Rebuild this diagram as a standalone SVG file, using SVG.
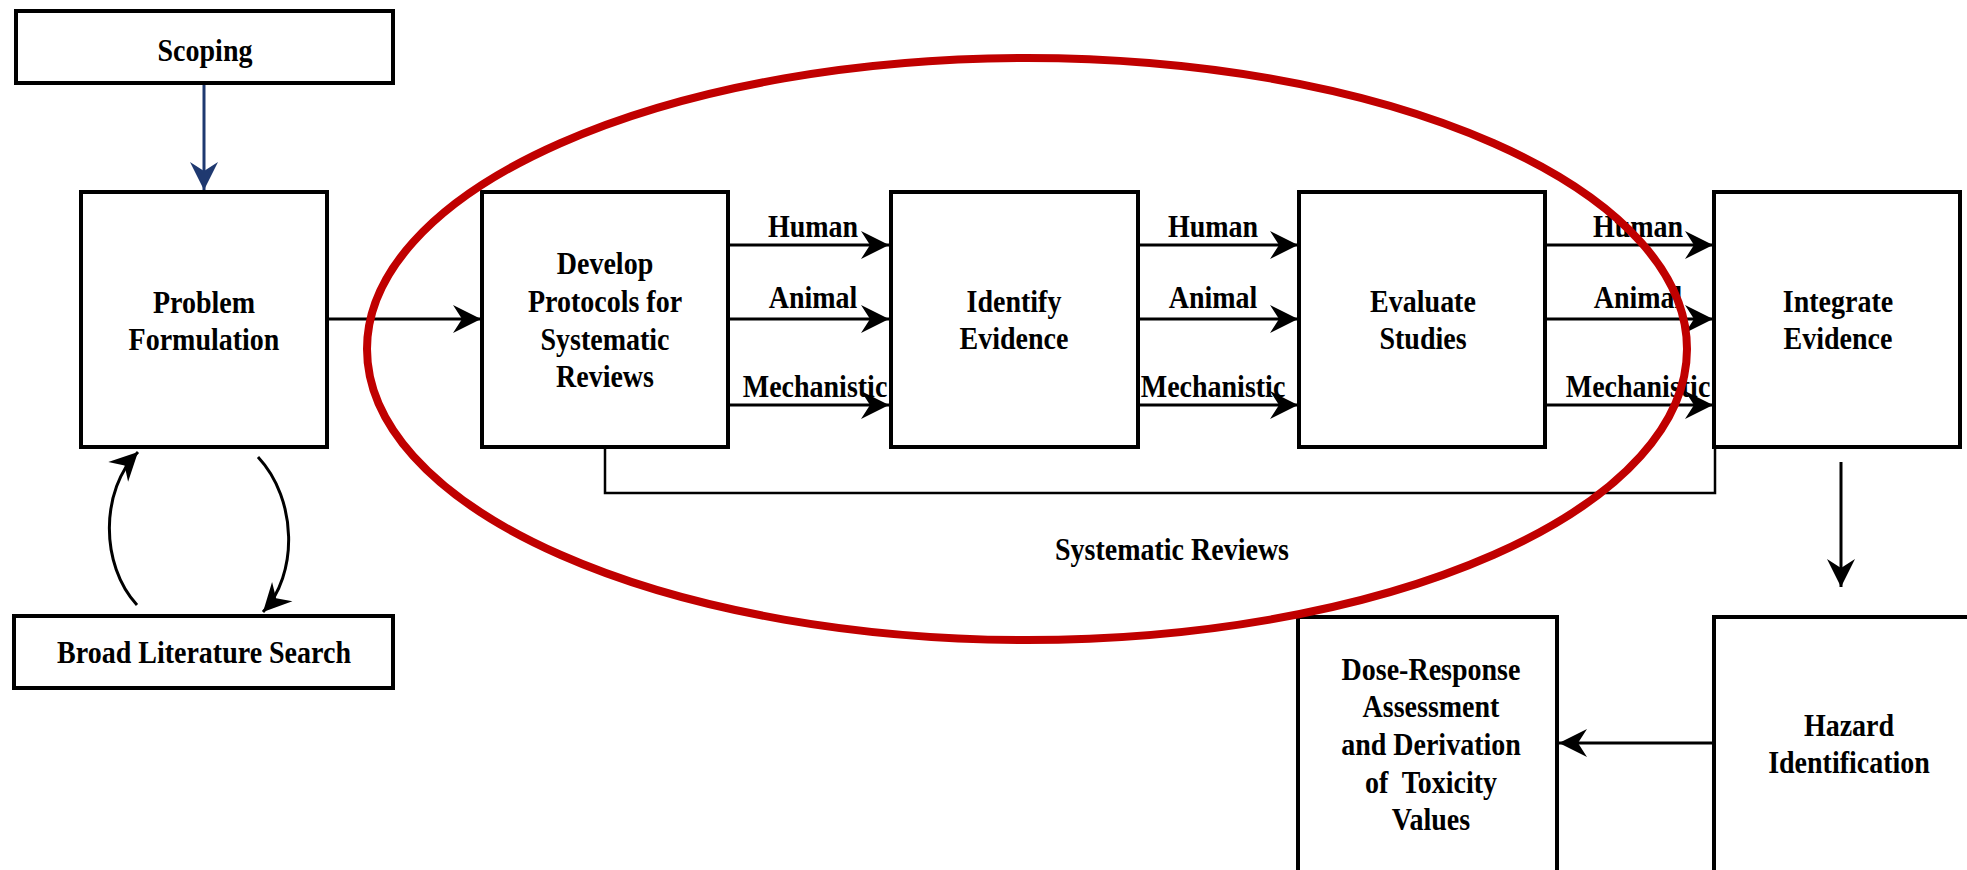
<svg xmlns="http://www.w3.org/2000/svg" width="1967" height="870" viewBox="0 0 1967 870">
<style>
.box{fill:#fff;stroke:#000;stroke-width:4}
.t{font-family:"Liberation Serif","Times New Roman",serif;font-weight:bold;font-size:28px;fill:#000;text-anchor:middle;white-space:pre}
.c{fill:none;stroke:#000;stroke-width:3}
</style>
<defs>
<marker id="ah" viewBox="-30 -16 32 32" markerWidth="32" markerHeight="32" refX="0" refY="0" markerUnits="userSpaceOnUse" orient="auto">
<path d="M0,0 L-28,-14 L-19,0 L-28,14 Z" fill="#000"/>
</marker>
<marker id="ahb" viewBox="-30 -16 32 32" markerWidth="32" markerHeight="32" refX="0" refY="0" markerUnits="userSpaceOnUse" orient="auto">
<path d="M0,0 L-28,-14 L-19,0 L-28,14 Z" fill="#1F3970"/>
</marker>
</defs>
<rect width="1967" height="870" fill="#fff"/>

<g id="connectors">
<line x1="204" y1="85" x2="204" y2="190" stroke="#1F3970" stroke-width="3" marker-end="url(#ahb)"/>
<line class="c" x1="327" y1="319" x2="481" y2="319" marker-end="url(#ah)"/>
<line class="c" x1="728" y1="245" x2="889" y2="245" marker-end="url(#ah)"/>
<line class="c" x1="728" y1="319" x2="889" y2="319" marker-end="url(#ah)"/>
<line class="c" x1="728" y1="405" x2="889" y2="405" marker-end="url(#ah)"/>
<line class="c" x1="1138" y1="245" x2="1298" y2="245" marker-end="url(#ah)"/>
<line class="c" x1="1138" y1="319" x2="1298" y2="319" marker-end="url(#ah)"/>
<line class="c" x1="1138" y1="405" x2="1298" y2="405" marker-end="url(#ah)"/>
<line class="c" x1="1545" y1="245" x2="1713" y2="245" marker-end="url(#ah)"/>
<line class="c" x1="1545" y1="319" x2="1713" y2="319" marker-end="url(#ah)"/>
<line class="c" x1="1545" y1="405" x2="1713" y2="405" marker-end="url(#ah)"/>
<path d="M605,447 V493 H1715 V447" fill="none" stroke="#000" stroke-width="2.5"/>
<line class="c" x1="1841" y1="462" x2="1841" y2="587" stroke-width="2.5" marker-end="url(#ah)"/>
<line class="c" x1="1714" y1="743" x2="1559" y2="743" marker-end="url(#ah)"/>
<path class="c" d="M137,605 C100,565 100,490 138,452" marker-end="url(#ah)"/>
<path class="c" d="M258,457 C298,500 298,575 263,612" marker-end="url(#ah)"/>
<text class="t" transform="translate(813,237) scale(1,1.14)">Human</text>
<text class="t" transform="translate(813,308) scale(1,1.14)">Animal</text>
<text class="t" transform="translate(815,397) scale(1,1.14)">Mechanistic</text>
<text class="t" transform="translate(1213,237) scale(1,1.14)">Human</text>
<text class="t" transform="translate(1213,308) scale(1,1.14)">Animal</text>
<text class="t" transform="translate(1213,397) scale(1,1.14)">Mechanistic</text>
<text class="t" transform="translate(1638,237) scale(1,1.14)">Human</text>
<text class="t" transform="translate(1638,308) scale(1,1.14)">Animal</text>
<text class="t" transform="translate(1638,397) scale(1,1.14)">Mechanistic</text>
</g>

<g id="scoping">
<rect class="box" x="16" y="11" width="377" height="72"/>
<text class="t" transform="translate(205,61) scale(1,1.14)">Scoping</text>
</g>
<g id="problem-formulation">
<rect class="box" x="81" y="192" width="246" height="255"/>
<text class="t" transform="translate(204,313) scale(1,1.14)">Problem</text>
<text class="t" transform="translate(204,350) scale(1,1.14)">Formulation</text>
</g>
<g id="broad-literature-search">
<rect class="box" x="14" y="616" width="379" height="72"/>
<text class="t" transform="translate(204,663) scale(1,1.14)">Broad Literature Search</text>
</g>
<g id="develop-protocols">
<rect class="box" x="482" y="192" width="246" height="255"/>
<text class="t" transform="translate(605,274) scale(1,1.14)">Develop</text>
<text class="t" transform="translate(605,312) scale(1,1.14)">Protocols for</text>
<text class="t" transform="translate(605,350) scale(1,1.14)">Systematic</text>
<text class="t" transform="translate(605,387) scale(1,1.14)">Reviews</text>
</g>
<g id="identify-evidence">
<rect class="box" x="891" y="192" width="247" height="255"/>
<text class="t" transform="translate(1014,312) scale(1,1.14)">Identify</text>
<text class="t" transform="translate(1014,349) scale(1,1.14)">Evidence</text>
</g>
<g id="evaluate-studies">
<rect class="box" x="1299" y="192" width="246" height="255"/>
<text class="t" transform="translate(1423,312) scale(1,1.14)">Evaluate</text>
<text class="t" transform="translate(1423,349) scale(1,1.14)">Studies</text>
</g>
<g id="integrate-evidence">
<rect class="box" x="1714" y="192" width="246" height="255"/>
<text class="t" transform="translate(1838,312) scale(1,1.14)">Integrate</text>
<text class="t" transform="translate(1838,349) scale(1,1.14)">Evidence</text>
</g>
<g id="hazard-identification">
<rect class="box" x="1714" y="617" width="280" height="280"/>
<text class="t" transform="translate(1849,736) scale(1,1.14)">Hazard</text>
<text class="t" transform="translate(1849,773) scale(1,1.14)">Identification</text>
</g>
<g id="dose-response">
<rect class="box" x="1298" y="617" width="259" height="280"/>
<text class="t" transform="translate(1431,680) scale(1,1.14)">Dose-Response</text>
<text class="t" transform="translate(1431,717) scale(1,1.14)">Assessment</text>
<text class="t" transform="translate(1431,755) scale(1,1.14)">and Derivation</text>
<text class="t" transform="translate(1431,793) scale(1,1.14)">of  Toxicity</text>
<text class="t" transform="translate(1431,830) scale(1,1.14)">Values</text>
</g>
<g id="systematic-reviews">
<ellipse cx="1027" cy="349" rx="660" ry="291" fill="none" stroke="#C00000" stroke-width="8"/>
<text class="t" transform="translate(1172,560) scale(1,1.14)">Systematic Reviews</text>
</g>
</svg>
